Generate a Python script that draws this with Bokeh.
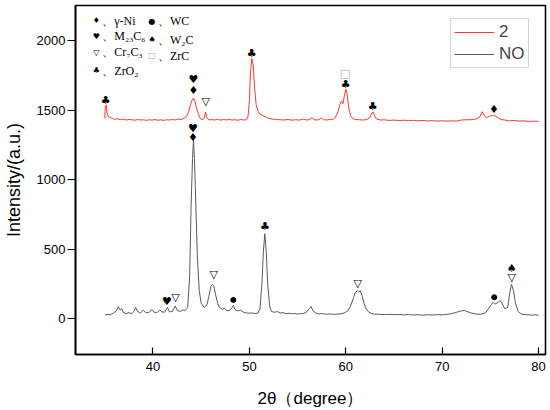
from bokeh.plotting import figure
from bokeh.models import ColumnDataSource, Range1d, FixedTicker
from bokeh.core.properties import value
from bokeh.embed import file_html
from bokeh.resources import INLINE

# ---- data ----
no_x = [35.0, 35.3, 35.6, 35.9, 36.2, 36.4, 36.6, 36.75, 36.9, 37.2, 37.5, 37.8, 38.0, 38.2, 38.4, 38.7,
        39.0, 39.2, 39.5, 39.9, 40.1, 40.4, 40.7, 40.9, 41.2, 41.5, 41.7, 42.0, 42.3, 42.5, 42.8, 43.1,
        43.3, 43.6, 43.8, 43.95, 44.1, 44.2, 44.3, 44.45, 44.6, 44.8, 45.0, 45.3, 45.6, 45.8, 46.0, 46.15,
        46.3, 46.5, 46.7, 46.9, 47.2, 47.4, 47.6, 47.9, 48.2, 48.35, 48.5, 48.8, 49.1, 49.4, 49.7, 50.0,
        50.3, 50.6, 50.9, 51.1, 51.3, 51.45, 51.6, 51.75, 51.9, 52.1, 52.3, 52.6, 52.9, 53.2, 53.5, 53.8,
        54.1, 54.4, 54.7, 55.0, 55.3, 55.6, 55.9, 56.2, 56.4, 56.6, 56.9, 57.2, 57.6, 58.0, 58.4, 58.8,
        59.2, 59.6, 59.9, 60.2, 60.5, 60.8, 61.0, 61.2, 61.35, 61.5, 61.7, 61.9, 62.1, 62.4, 62.7, 63.0,
        63.5, 64.0, 64.5, 65.0, 65.5, 66.0, 66.5, 67.0, 67.5, 68.0, 68.5, 69.0, 69.5, 70.0, 70.5, 71.0,
        71.5, 72.0, 72.3, 72.6, 73.0, 73.5, 74.0, 74.5, 74.8, 75.1, 75.3, 75.5, 75.8, 76.0, 76.2, 76.5,
        76.8, 77.0, 77.2, 77.4, 77.6, 77.9, 78.2, 78.6, 79.0, 79.4, 79.7, 80.0]
no_y = [25, 30, 28, 40, 55, 85, 60, 72, 45, 35, 42, 35, 50, 80, 50, 40,
        60, 45, 40, 65, 45, 42, 62, 48, 45, 80, 48, 50, 90, 60, 50, 62,
        55, 80, 300, 800, 1150, 1285, 1150, 800, 450, 200, 110, 80, 100, 160, 230, 245,
        235, 170, 110, 80, 65, 75, 60, 55, 80, 95, 65, 55, 60, 45, 40, 38,
        40, 35, 40, 70, 250, 480, 610, 480, 250, 90, 50, 45, 50, 40, 42, 35,
        38, 33, 37, 32, 35, 36, 45, 70, 86, 55, 38, 33, 35, 30, 33, 30,
        32, 35, 42, 55, 90, 150, 190, 200, 190, 200, 160, 110, 70, 45, 35, 32,
        30, 28, 30, 27, 29, 26, 28, 25, 27, 24, 27, 25, 28, 26, 30, 35,
        45, 55, 58, 50, 40, 32, 30, 40, 70, 100, 117, 105, 115, 130, 110, 70,
        80, 180, 245, 200, 110, 50, 32, 28, 26, 24, 27, 22]

s2_x = [35.0, 35.05, 35.15, 35.25, 35.4, 35.6, 35.8, 36.0, 36.3, 36.6, 36.9, 37.2, 37.5, 37.8, 38.1, 38.4,
        38.7, 39.0, 39.3, 39.6, 39.9, 40.2, 40.5, 40.8, 41.1, 41.4, 41.7, 42.0, 42.3, 42.6, 42.9, 43.2,
        43.5, 43.7, 43.9, 44.05, 44.2, 44.35, 44.5, 44.7, 44.9, 45.1, 45.3, 45.45, 45.6, 45.8, 46.1, 46.4,
        46.7, 47.0, 47.3, 47.6, 47.9, 48.2, 48.5, 48.8, 49.1, 49.4, 49.7, 49.85, 50.0, 50.1, 50.25, 50.4,
        50.55, 50.7, 50.9, 51.1, 51.4, 51.7, 52.0, 52.4, 52.8, 53.2, 53.6, 54.0, 54.4, 54.8, 55.2, 55.6,
        55.9, 56.2, 56.5, 56.7, 57.1, 57.5, 57.7, 58.0, 58.3, 58.6, 58.9, 59.2, 59.4, 59.55, 59.7, 59.85,
        60.0, 60.15, 60.3, 60.5, 60.7, 61.0, 61.4, 61.8, 62.2, 62.5, 62.7, 62.85, 63.0, 63.2, 63.6, 64.0,
        64.5, 65.0, 65.5, 66.0, 66.5, 67.0, 67.5, 68.0, 68.5, 69.0, 69.5, 70.0, 70.5, 71.0, 71.5, 72.0,
        72.5, 73.0, 73.5, 73.9, 74.15, 74.35, 74.6, 74.9, 75.2, 75.5, 75.8, 76.1, 76.5, 77.0, 77.5, 78.0,
        78.5, 79.0, 79.5, 80.0]
s2_y = [1440, 1530, 1535, 1470, 1450, 1445, 1440, 1432, 1438, 1430, 1435, 1428, 1432, 1430, 1426, 1432,
        1428, 1430, 1425, 1430, 1427, 1432, 1426, 1430, 1425, 1430, 1428, 1432, 1428, 1435, 1432, 1440,
        1455, 1490, 1540, 1570, 1585, 1560, 1520, 1475, 1440, 1430, 1440, 1485, 1445, 1428, 1432, 1428,
        1433, 1427, 1432, 1428, 1433, 1428, 1430, 1426, 1432, 1428, 1430, 1450, 1560, 1760, 1870, 1820,
        1650, 1540, 1490, 1470, 1460, 1450, 1440, 1435, 1432, 1430, 1428, 1432, 1427, 1430, 1428, 1435,
        1428, 1430, 1445, 1430, 1428, 1442, 1430, 1428, 1432, 1430, 1445, 1490, 1540, 1565, 1545, 1600,
        1650, 1610, 1520, 1460, 1440, 1432, 1430, 1428, 1432, 1445, 1480, 1485, 1455, 1435, 1428, 1430,
        1425, 1428, 1424, 1427, 1423, 1426, 1422, 1425, 1421, 1424, 1420, 1423, 1420, 1422, 1420, 1428,
        1430, 1430, 1435, 1450, 1488, 1460, 1445, 1455, 1462, 1458, 1445, 1432, 1428, 1422, 1425, 1420,
        1422, 1418, 1420, 1418]

# peak markers
mk_x = [35.1, 44.2, 44.2, 45.47, 50.25, 59.95, 60.0, 62.78, 75.38,
        41.45, 42.32, 44.15, 44.15, 46.3, 48.33, 51.62, 61.25, 75.4, 77.22, 77.22]
mk_y = [1572, 1719, 1640, 1563, 1904, 1762, 1682, 1526, 1502,
        122, 149, 1366, 1301, 315, 134, 662, 254, 153, 293, 362]
mk_sym = ["♣", "♥", "♦", "▽", "♣", "□", "♣", "♣", "♦",
          "♥", "▽", "♥", "♦", "▽", "●", "♣", "▽", "●", "▽", "♠"]

# phase key
key_sym = ["♦", "♥", "▽", "♣", "●", "♠", "□"]
key_name = ["、γ-Ni", "、M₂₃C₆", "、Cr₇C₃", "、ZrO₂", "、WC", "、W₂C", "、ZrC"]
key_x = [34.12, 34.12, 34.12, 34.12, 39.9, 39.9, 39.9]
key_y = [2144, 2029, 1914, 1784, 2137, 2007, 1892]

x_ticks = [40, 50, 60, 70, 80]
y_ticks = [0, 500, 1000, 1500, 2000]
x_title = "2θ（degree）"
y_title = "Intensity/(a.u.)"

BLACK = "black"
GREY_BOX = "#a8a8a8"

p = figure(width=550, height=410, output_backend="svg", toolbar_location=None,
           x_range=Range1d(31.96, 80.72), y_range=Range1d(-259, 2252),
           min_border_left=72, min_border_right=5, min_border_top=5, min_border_bottom=56)
p.grid.visible = False
p.outline_line_color = "black"
p.outline_line_width = 1.6
p.background_fill_color = "white"

p.line(s2_x, s2_y, line_color="#ff3535", line_width=1.0, legend_label="2")
p.line(no_x, no_y, line_color="#5a5a5a", line_width=1.0, legend_label="NO")

# peak markers: suits and outlines as text, solid dots as circles
t_idx = [i for i, s in enumerate(mk_sym) if s != "●"]
d_idx = [i for i, s in enumerate(mk_sym) if s == "●"]
tsrc = ColumnDataSource(dict(x=[mk_x[i] for i in t_idx], y=[mk_y[i] for i in t_idx],
                             t=[mk_sym[i] for i in t_idx],
                             c=[GREY_BOX if mk_sym[i] == "□" else BLACK for i in t_idx]))
p.text(x="x", y="y", text="t", source=tsrc, text_color="c", text_align="center",
       text_baseline="middle", text_font=value("DejaVu Sans"), text_font_size="11px")
p.scatter([mk_x[i] for i in d_idx], [mk_y[i] for i in d_idx], marker="circle", size=5,
          color="black")

# phase key
ksym_src = ColumnDataSource(dict(x=key_x, y=key_y, t=key_sym,
                                 c=[GREY_BOX if s == "□" else BLACK for s in key_sym]))
p.text(x="x", y="y", text="t", source=ksym_src, text_color="c", text_align="center",
       text_baseline="middle", text_font=value("DejaVu Sans"), text_font_size="8px")
kname_src = ColumnDataSource(dict(x=[k + 0.62 for k in key_x], y=key_y, t=key_name))
p.text(x="x", y="y", text="t", source=kname_src, text_color="black", text_align="left",
       text_baseline="middle", text_font=value("Liberation Serif"), text_font_size="12px")

for ax in (p.xaxis[0], p.yaxis[0]):
    ax.axis_line_width = 1.6
    ax.major_tick_line_width = 1.2
    ax.minor_tick_line_color = None
    ax.major_label_text_font = "Liberation Sans"
    ax.major_label_text_font_size = "13px"
    ax.major_label_text_color = "black"
    ax.axis_label_text_font = "Liberation Sans"
    ax.axis_label_text_font_style = "normal"
    ax.axis_label_text_color = "black"

p.xaxis.ticker = FixedTicker(ticks=x_ticks)
p.yaxis.ticker = FixedTicker(ticks=y_ticks)
p.xaxis.major_tick_in = 7
p.xaxis.major_tick_out = 0
p.yaxis.major_tick_in = 0
p.yaxis.major_tick_out = 8
p.xaxis.major_label_standoff = 7
p.yaxis.major_label_standoff = 2
p.xaxis.axis_label = x_title
p.yaxis.axis_label = y_title
p.xaxis.axis_label_text_font_size = "17px"
p.yaxis.axis_label_text_font_size = "18px"
p.xaxis.axis_label_standoff = 15
p.yaxis.axis_label_standoff = 10

lg = p.legend[0]
lg.location = (375, 286)
lg.border_line_color = "#b0b0b0"
lg.border_line_width = 1
lg.background_fill_color = "white"
lg.background_fill_alpha = 1
lg.glyph_width = 40
lg.glyph_height = 20
lg.label_height = 20
lg.label_standoff = 5
lg.label_text_font = "Liberation Sans"
lg.label_text_font_size = "17px"
lg.spacing = 2
lg.padding = 3
lg.margin = 0

open("out.html", "w").write(file_html(p, INLINE))
